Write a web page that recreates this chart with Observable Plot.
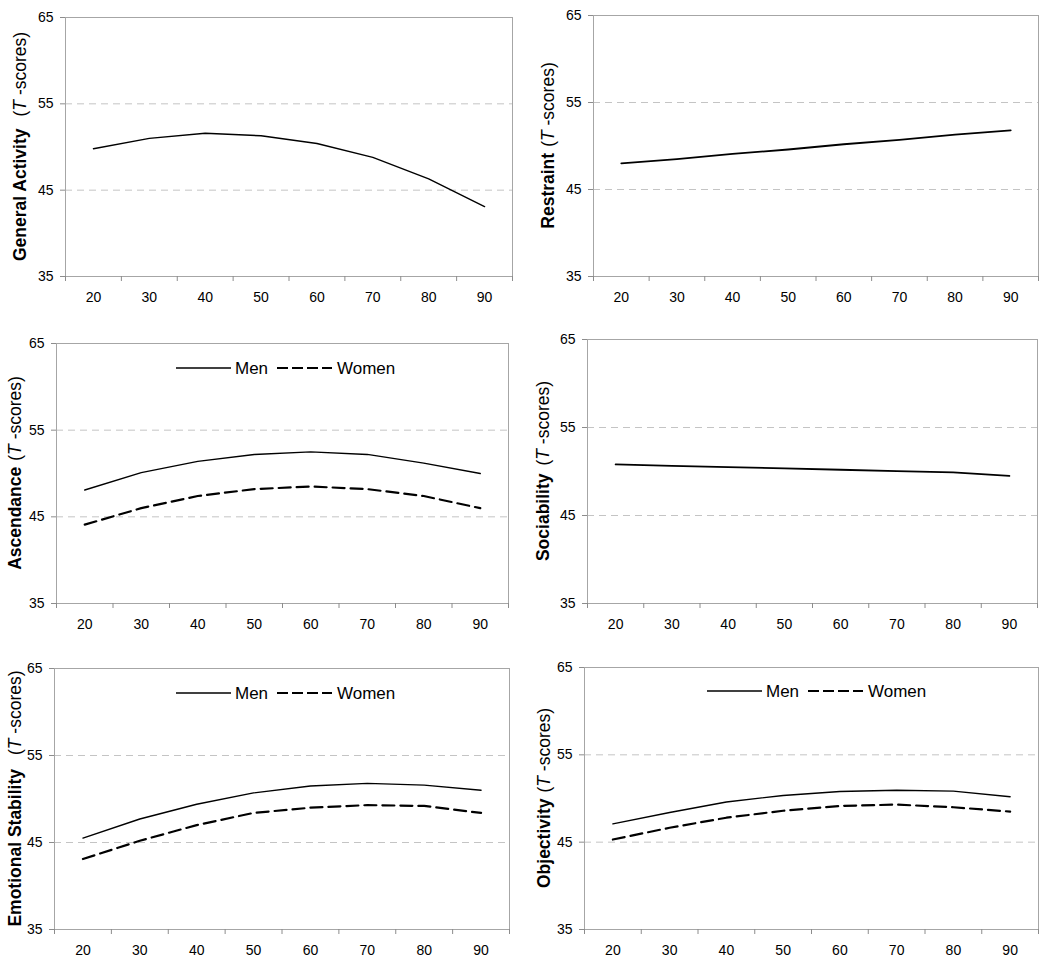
<!DOCTYPE html>
<html>
<head>
<meta charset="utf-8">
<script src="https://cdn.jsdelivr.net/npm/d3@7"></script>
<script src="https://cdn.jsdelivr.net/npm/@observablehq/plot@0.6"></script>
<style>
  html, body { margin: 0; padding: 0; background: #fff; }
  #root { position: relative; width: 1050px; height: 969px; font-family: "Liberation Sans", Arial, sans-serif; }
  .panel { position: absolute; }
</style>
</head>
<body>
<div id="root"></div>
<script>
// ---- Data ----
const ages = [20, 30, 40, 50, 60, 70, 80, 90];
const yTicks = [35, 45, 55, 65];
const gridValues = [45, 55];

const generalActivity = [49.8, 51.0, 51.6, 51.3, 50.4, 48.8, 46.3, 43.1];
const restraint       = [48.0, 48.5, 49.1, 49.6, 50.2, 50.7, 51.3, 51.8];
const ascendanceMen   = [48.1, 50.1, 51.4, 52.2, 52.5, 52.2, 51.2, 50.0];
const ascendanceWomen = [44.1, 46.0, 47.4, 48.2, 48.5, 48.2, 47.4, 46.0];
const sociability     = [50.8, 50.65, 50.5, 50.35, 50.2, 50.05, 49.9, 49.5];
const emotionalMen    = [45.5, 47.7, 49.4, 50.7, 51.5, 51.8, 51.6, 51.0];
const emotionalWomen  = [43.1, 45.2, 47.0, 48.4, 49.0, 49.3, 49.2, 48.4];
const objectivityMen  = [47.1, 48.4, 49.6, 50.35, 50.8, 50.95, 50.85, 50.2];
const objectivityWomen= [45.3, 46.65, 47.8, 48.6, 49.15, 49.3, 49.0, 48.5];

const seriesNames = ["Men", "Women"];

// ---- Panel layout ----
const panels = [
  {name: "General Activity", gap: 12, men: generalActivity, women: null,
   left: 0, top: 0, h: 320, mL: 65, mR: 13, mT: 17, mB: 44, labelX: 20, lw: 1.4},
  {name: "Restraint", gap: 6, men: restraint, women: null,
   left: 525, top: 0, h: 320, mL: 68, mR: 12, mT: 15, mB: 44, labelX: 23, lw: 1.8},
  {name: "Ascendance", gap: 6, men: ascendanceMen, women: ascendanceWomen,
   left: 0, top: 320, h: 320, mL: 56, mR: 17, mT: 23, mB: 37, labelX: 15, lw: 1.4,
   legend: {x: 176, y: 48}},
  {name: "Sociability", gap: 8, men: sociability, women: null,
   left: 525, top: 320, h: 320, mL: 62, mR: 13, mT: 19, mB: 37, labelX: 18, lw: 1.8},
  {name: "Emotional Stability", gap: 14, men: emotionalMen, women: emotionalWomen,
   left: 0, top: 640, h: 329, mL: 54, mR: 16, mT: 28, mB: 40, labelX: 15, lw: 1.4,
   legend: {x: 176, y: 53}},
  {name: "Objectivity", gap: 6, men: objectivityMen, women: objectivityWomen,
   left: 525, top: 640, h: 329, mL: 59, mR: 12, mT: 27, mB: 40, labelX: 19, lw: 1.4,
   legend: {x: 182, y: 51}}
];

const root = document.getElementById("root");
const boundaries = ages.map(a => a - 5).concat([ages[ages.length - 1] + 5]);

for (const p of panels) {
  const menData = ages.map((a, i) => ({age: a, value: p.men[i]}));
  const womenData = p.women ? ages.map((a, i) => ({age: a, value: p.women[i]})) : [];

  const marks = [
    Plot.ruleY(gridValues, {stroke: "#c4c4c4", strokeDasharray: "7,5", strokeWidth: 1}),
    Plot.frame({stroke: "#a6a6a6", strokeWidth: 1}),
    Plot.axisY({ticks: yTicks, tickSize: 5, tickPadding: 7, label: null, stroke: "#8c8c8c", fill: "#000", fontSize: 14}),
    Plot.axisX({ticks: ages, tickSize: 0, tickPadding: 16, label: null, fill: "#000", fontSize: 14}),
    Plot.axisX({ticks: boundaries, tickSize: 5, tickFormat: () => "", label: null, stroke: "#8c8c8c"}),
    Plot.line(menData, {x: "age", y: "value", stroke: "#000", strokeWidth: p.lw})
  ];
  if (p.women) {
    marks.push(Plot.line(womenData, {x: "age", y: "value", stroke: "#000", strokeWidth: 2.2, strokeDasharray: "12,6"}));
  }

  const svg = Plot.plot({
    width: 525, height: p.h,
    marginLeft: p.mL, marginRight: p.mR, marginTop: p.mT, marginBottom: p.mB,
    x: {domain: [15, 95]},
    y: {domain: [35, 65]},
    style: {fontFamily: "'Liberation Sans', Arial, sans-serif", fontSize: "14px", color: "#000", background: "transparent"},
    marks
  });

  const s = d3.select(svg);
  const cy = p.mT + (p.h - p.mT - p.mB) / 2;
  const t = s.append("text")
    .attr("transform", `translate(${p.labelX},${cy}) rotate(-90)`)
    .attr("text-anchor", "middle")
    .attr("dy", "0.35em")
    .attr("font-size", "17.5px")
    .attr("fill", "#000")
    .style("white-space", "pre");
  t.append("tspan").attr("font-weight", "bold").text(p.name);
  t.append("tspan").attr("dx", p.gap).text("(");
  t.append("tspan").attr("font-style", "italic").text("T");
  t.append("tspan").text(" -scores)");

  if (p.legend) {
    const g = s.append("g").attr("font-size", "17px").attr("fill", "#000").attr("text-anchor", "start");
    const lx = p.legend.x, ly = p.legend.y;
    g.append("line").attr("x1", lx).attr("x2", lx + 55).attr("y1", ly).attr("y2", ly)
      .attr("stroke", "#000").attr("stroke-width", 1.4);
    g.append("text").attr("x", lx + 59).attr("y", ly).attr("dy", "0.35em").attr("text-anchor", "start").text(seriesNames[0]);
    g.append("line").attr("x1", lx + 101).attr("x2", lx + 156).attr("y1", ly).attr("y2", ly)
      .attr("stroke", "#000").attr("stroke-width", 2.2).attr("stroke-dasharray", "11,4");
    g.append("text").attr("x", lx + 161).attr("y", ly).attr("dy", "0.35em").attr("text-anchor", "start").text(seriesNames[1]);
  }

  const div = document.createElement("div");
  div.className = "panel";
  div.style.left = p.left + "px";
  div.style.top = p.top + "px";
  div.appendChild(svg);
  root.appendChild(div);
}
</script>
</body>
</html>
